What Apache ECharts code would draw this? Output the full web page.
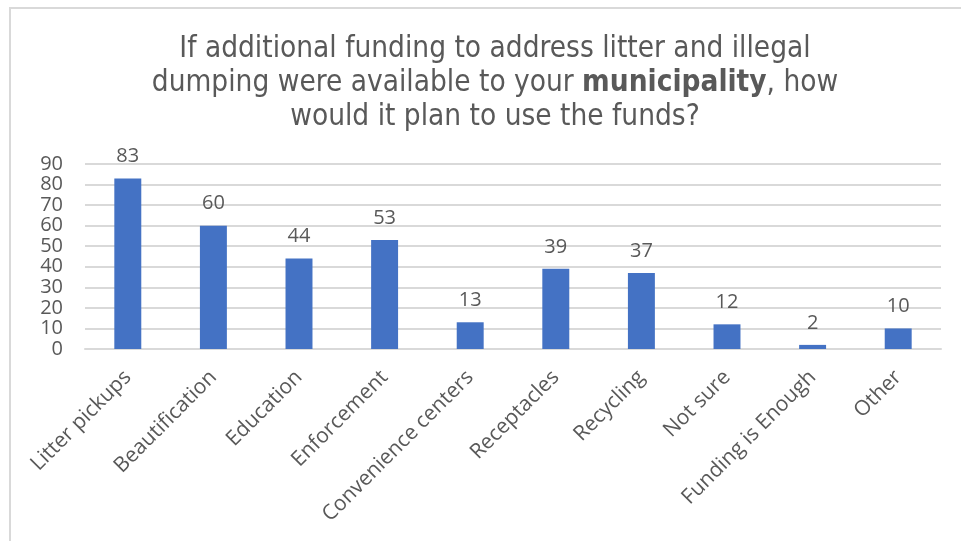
<!DOCTYPE html>
<html>
<head>
<meta charset="utf-8">
<script src="https://cdn.jsdelivr.net/npm/echarts@6/dist/echarts.min.js"></script>
<style>
  html, body { margin: 0; padding: 0; background: #fff; }
  #chart { width: 961px; height: 541px; }
</style>
</head>
<body>
<div id="chart"></div>
<script>
// Survey answers: planned use of additional litter / dumping funds
const categories = [
  'Litter pickups', 'Beautification', 'Education', 'Enforcement',
  'Convenience centers', 'Receptacles', 'Recycling', 'Not sure',
  'Funding is Enough', 'Other'
];
const responses = [83, 60, 44, 53, 13, 39, 37, 12, 2, 10];
const yTicks = { min: 0, max: 90, interval: 10 };

const textGray = '#595959';
const gridGray = '#d9d9d9';
const titleFont = '"DejaVu Sans Condensed", "Liberation Sans Narrow", sans-serif';
const labelFont = '"Open Sans", "Noto Sans", sans-serif';

const chart = echarts.init(document.getElementById('chart'));
chart.setOption({
  animation: false,
  backgroundColor: '#fff',
  title: {
    text: '{n|If additional funding to address litter and illegal}\n' +
          '{n|dumping were available to your }{b|municipality}{n|, how}\n' +
          '{n|would it plan to use the funds?}',
    left: 490,
    top: 27,
    textAlign: 'center',
    textStyle: {
      fontWeight: 'normal',
      rich: {
        n: { fontFamily: titleFont, fontSize: 29.5, color: textGray, lineHeight: 34, fontWeight: 'normal' },
        b: { fontFamily: titleFont, fontSize: 29.5, color: textGray, lineHeight: 34, fontWeight: 'bold' }
      }
    }
  },
  graphic: [
    { type: 'rect', shape: { x: 10, y: 7, width: 951, height: 2 }, style: { fill: gridGray }, silent: true },
    { type: 'rect', shape: { x: 9, y: 7, width: 2, height: 534 }, style: { fill: gridGray }, silent: true }
  ],
  grid: { left: 85, right: 20, top: 164, bottom: 192 },
  xAxis: {
    type: 'category',
    data: categories,
    axisLine: { lineStyle: { color: gridGray, width: 2 } },
    axisTick: { show: false },
    axisLabel: {
      rotate: 45,
      interval: 0,
      margin: 25,
      color: textGray,
      fontFamily: labelFont,
      fontSize: 21
    }
  },
  yAxis: {
    type: 'value',
    min: yTicks.min,
    max: yTicks.max,
    interval: yTicks.interval,
    axisLine: { show: false },
    axisTick: { show: false },
    splitLine: { lineStyle: { color: gridGray, width: 2 } },
    axisLabel: {
      margin: 22,
      color: textGray,
      fontFamily: labelFont,
      fontSize: 20
    }
  },
  series: [{
    type: 'bar',
    data: responses,
    barWidth: '31.5%',
    itemStyle: { color: '#4472C4' },
    label: {
      show: true,
      position: 'top',
      distance: 12,
      color: textGray,
      fontFamily: labelFont,
      fontSize: 20
    }
  }]
});
</script>
</body>
</html>
